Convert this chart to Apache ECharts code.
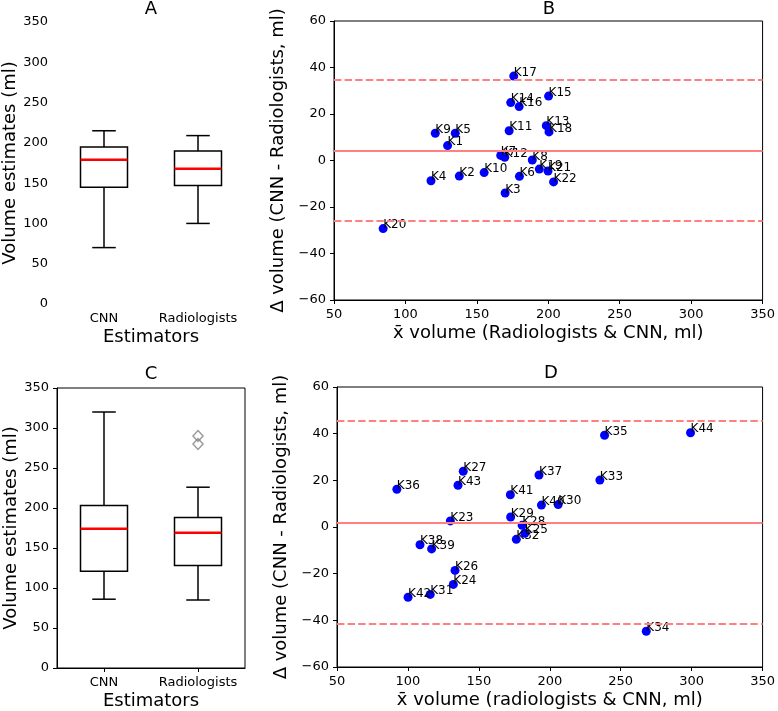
<!DOCTYPE html>
<html>
<head>
<meta charset="utf-8">
<script src="https://cdn.jsdelivr.net/npm/echarts@6/dist/echarts.min.js"></script>
<style>
html,body{margin:0;padding:0;background:#fff;}
#chart{width:778px;height:711px;}
</style>
</head>
<body>
<div id="chart"></div>
<script>
// ---------- data ----------
const boxCategories = ['CNN', 'Radiologists'];
// [min, Q1, median, Q3, max]
const boxA_CNN = [70, 145, 179, 195, 215];
const boxA_Rad = [100, 147, 168, 190, 209];
const boxC_CNN = [86, 121, 174, 203, 320];
const boxC_Rad = [85, 128, 169, 188, 226];
const outliersC_Rad = [290, 280];

const bNames = ['K1','K2','K3','K4','K5','K6','K7','K8','K9','K10','K11','K12','K13','K14','K15','K16','K17','K18','K19','K20','K21','K22'];
const bMeanVol = [129.5, 137.7, 169.8, 117.9, 134.9, 179.8, 166.7, 188.8, 120.9, 155.1, 172.6, 169.5, 198.6, 173.7, 200.2, 179.6, 175.8, 200.5, 193.7, 84.4, 199.8, 203.7];
const bDiff = [6.4, -6.7, -14.0, -8.7, 11.7, -6.8, 2.2, 0.2, 11.7, -5.2, 12.8, 1.4, 15.0, 24.9, 27.7, 23.2, 36.3, 12.3, -3.7, -29.3, -4.5, -9.2];
const bMeanDiff = 4.3, bUpper = 34.6, bLower = -26.0;

const dNames = ['K23','K24','K25','K26','K27','K28','K29','K30','K31','K32','K33','K34','K35','K36','K37','K38','K39','K40','K41','K42','K43','K44'];
const dMeanVol = [129.9, 132.0, 182.4, 133.2, 139.0, 180.5, 172.4, 205.9, 115.7, 176.4, 235.3, 268.0, 238.6, 92.2, 192.4, 108.5, 116.7, 194.1, 172.2, 100.1, 135.3, 299.2];
const dDiff = [2.6, -24.6, -2.7, -18.6, 23.9, 0.7, 4.3, 9.6, -28.9, -5.3, 20.1, -44.7, 39.3, 16.2, 22.3, -7.6, -9.4, 9.4, 13.8, -30.1, 17.9, 40.4];
const dMeanDiff = 2.0, dUpper = 45.6, dLower = -41.4;

const panelTitles = ['A', 'B', 'C', 'D'];

// ---------- helpers ----------
const FONT = 'DejaVu Sans';
const minus = v => String(v).replace('-', '\u2212');

function renderBox(params, api) {
  const idx = api.value(0);
  const vMin = api.value(1), q1 = api.value(2), med = api.value(3), q3 = api.value(4), vMax = api.value(5);
  const band = api.size([1, 0])[0];
  const hb = band * 0.25, hc = band * 0.125;
  const pMin = api.coord([idx, vMin]);
  const pQ1 = api.coord([idx, q1]);
  const pMed = api.coord([idx, med]);
  const pQ3 = api.coord([idx, q3]);
  const pMax = api.coord([idx, vMax]);
  const cx = pMed[0];
  const black = {stroke: '#000', lineWidth: 1.5, fill: null};
  return {
    type: 'group',
    children: [
      {type: 'line', shape: {x1: cx, y1: pQ3[1], x2: cx, y2: pMax[1]}, style: black},
      {type: 'line', shape: {x1: cx, y1: pQ1[1], x2: cx, y2: pMin[1]}, style: black},
      {type: 'line', shape: {x1: cx - hc, y1: pMax[1], x2: cx + hc, y2: pMax[1]}, style: black},
      {type: 'line', shape: {x1: cx - hc, y1: pMin[1], x2: cx + hc, y2: pMin[1]}, style: black},
      {type: 'rect', shape: {x: cx - hb, y: pQ3[1], width: 2 * hb, height: pQ1[1] - pQ3[1]}, style: {stroke: '#000', lineWidth: 1.5, fill: 'none'}},
      {type: 'line', shape: {x1: cx - hb, y1: pMed[1], x2: cx + hb, y2: pMed[1]}, style: {stroke: '#ff0000', lineWidth: 2.5}}
    ]
  };
}

function scatterData(names, xs, ys) {
  return names.map((n, i) => ({name: n, value: [xs[i], ys[i]]}));
}

function limitLines(mean, up, lo) {
  return {
    silent: true,
    symbol: 'none',
    label: {show: false},
    data: [
      {yAxis: mean, lineStyle: {type: 'solid'}},
      {yAxis: up, lineStyle: {type: [7.4, 3.2]}},
      {yAxis: lo, lineStyle: {type: [7.4, 3.2]}}
    ],
    lineStyle: {color: '#ff8080', width: 2}
  };
}

const tickLabel = {color: '#000', fontSize: 13, fontFamily: FONT, margin: 8};
const catLabel = {color: '#000', fontSize: 13, fontFamily: FONT, margin: 8, interval: 0};
const nameStyle = {color: '#000', fontSize: 18, fontFamily: FONT};
const axisLine = {show: true, onZero: false, lineStyle: {color: '#000', width: 1}};
const axisTick = {show: true, length: 4, lineStyle: {color: '#000', width: 1}};

const option = {
  animation: false,
  backgroundColor: '#fff',
  textStyle: {fontFamily: FONT},
  grid: [
    {left: 57, top: 22, width: 188, height: 282, show: false},
    {left: 334, top: 21, width: 430, height: 279, show: true, borderColor: '#000', borderWidth: 1, backgroundColor: 'transparent'},
    {left: 57, top: 388, width: 188, height: 281, show: true, borderColor: '#000', borderWidth: 1, backgroundColor: 'transparent'},
    {left: 337, top: 387, width: 429, height: 280, show: true, borderColor: '#000', borderWidth: 1, backgroundColor: 'transparent'}
  ],
  xAxis: [
    {gridIndex: 0, type: 'category', data: boxCategories, boundaryGap: true,
     axisLine: {show: false, onZero: false}, axisTick: {show: false}, axisLabel: catLabel,
     name: 'Estimators', nameLocation: 'middle', nameGap: 24, nameTextStyle: nameStyle, splitLine: {show: false}},
    {gridIndex: 1, type: 'value', min: 50, max: 350, interval: 50,
     axisLine: axisLine, axisTick: axisTick, axisLabel: tickLabel, splitLine: {show: false},
     name: 'x\u0304 volume (Radiologists & CNN, ml)', nameLocation: 'middle', nameGap: 24, nameTextStyle: nameStyle},
    {gridIndex: 2, type: 'category', data: boxCategories, boundaryGap: true,
     axisLine: axisLine, axisTick: Object.assign({alignWithLabel: true, interval: 0}, axisTick), axisLabel: catLabel,
     name: 'Estimators', nameLocation: 'middle', nameGap: 24, nameTextStyle: nameStyle, splitLine: {show: false}},
    {gridIndex: 3, type: 'value', min: 50, max: 350, interval: 50,
     axisLine: axisLine, axisTick: axisTick, axisLabel: tickLabel, splitLine: {show: false},
     name: 'x\u0304 volume (radiologists & CNN, ml)', nameLocation: 'middle', nameGap: 24, nameTextStyle: nameStyle}
  ],
  yAxis: [
    {gridIndex: 0, type: 'value', min: 0, max: 350, interval: 50,
     axisLine: {show: false, onZero: false}, axisTick: {show: false}, axisLabel: Object.assign({}, tickLabel, {margin: 9}), splitLine: {show: false},
     name: 'Volume estimates (ml)', nameLocation: 'middle', nameGap: 36, nameRotate: 90, nameTextStyle: nameStyle},
    {gridIndex: 1, type: 'value', min: -60, max: 60, interval: 20,
     axisLine: axisLine, axisTick: axisTick, axisLabel: Object.assign({}, tickLabel, {formatter: minus}), splitLine: {show: false},
     name: '\u0394 volume (CNN - Radiologists, ml)', nameLocation: 'middle', nameGap: 31, nameRotate: 90, nameTextStyle: nameStyle},
    {gridIndex: 2, type: 'value', min: 0, max: 350, interval: 50,
     axisLine: axisLine, axisTick: axisTick, axisLabel: tickLabel, splitLine: {show: false},
     name: 'Volume estimates (ml)', nameLocation: 'middle', nameGap: 36, nameRotate: 90, nameTextStyle: nameStyle},
    {gridIndex: 3, type: 'value', min: -60, max: 60, interval: 20,
     axisLine: axisLine, axisTick: axisTick, axisLabel: Object.assign({}, tickLabel, {formatter: minus}), splitLine: {show: false},
     name: '\u0394 volume (CNN - Radiologists, ml)', nameLocation: 'middle', nameGap: 32, nameRotate: 90, nameTextStyle: nameStyle}
  ],
  graphic: [
    {type: 'text', x: 151, y: 9, style: {text: panelTitles[0], fontSize: 18, fontFamily: FONT, fill: '#000', align: 'center', verticalAlign: 'middle'}},
    {type: 'text', x: 549, y: 9, style: {text: panelTitles[1], fontSize: 18, fontFamily: FONT, fill: '#000', align: 'center', verticalAlign: 'middle'}},
    {type: 'text', x: 151, y: 374, style: {text: panelTitles[2], fontSize: 18, fontFamily: FONT, fill: '#000', align: 'center', verticalAlign: 'middle'}},
    {type: 'text', x: 551, y: 373, style: {text: panelTitles[3], fontSize: 18, fontFamily: FONT, fill: '#000', align: 'center', verticalAlign: 'middle'}}
  ],
  series: [
    {type: 'custom', xAxisIndex: 0, yAxisIndex: 0, renderItem: renderBox,
     encode: {x: 0, y: [1, 2, 3, 4, 5]},
     data: [[0].concat(boxA_CNN), [1].concat(boxA_Rad)]},
    {type: 'custom', xAxisIndex: 2, yAxisIndex: 2, renderItem: renderBox,
     encode: {x: 0, y: [1, 2, 3, 4, 5]},
     data: [[0].concat(boxC_CNN), [1].concat(boxC_Rad)]},
    {type: 'scatter', xAxisIndex: 2, yAxisIndex: 2, symbol: 'diamond', symbolSize: [10, 11],
     itemStyle: {color: 'rgba(0,0,0,0)', borderColor: '#808080', borderWidth: 1.5},
     data: outliersC_Rad.map(v => [1, v])},
    {type: 'scatter', xAxisIndex: 1, yAxisIndex: 1, symbolSize: 9, z: 3,
     itemStyle: {color: '#0000ff', opacity: 1},
     label: {show: true, formatter: p => p.name, position: [4.5, 7], align: 'left', verticalAlign: 'bottom', color: '#000', fontSize: 12, fontFamily: FONT},
     data: scatterData(bNames, bMeanVol, bDiff),
     markLine: limitLines(bMeanDiff, bUpper, bLower)},
    {type: 'scatter', xAxisIndex: 3, yAxisIndex: 3, symbolSize: 9, z: 3,
     itemStyle: {color: '#0000ff', opacity: 1},
     label: {show: true, formatter: p => p.name, position: [4.5, 7], align: 'left', verticalAlign: 'bottom', color: '#000', fontSize: 12, fontFamily: FONT},
     data: scatterData(dNames, dMeanVol, dDiff),
     markLine: limitLines(dMeanDiff, dUpper, dLower)}
  ]
};

const chart = echarts.init(document.getElementById('chart'), null, {renderer: 'canvas'});
chart.setOption(option);
</script>
</body>
</html>
